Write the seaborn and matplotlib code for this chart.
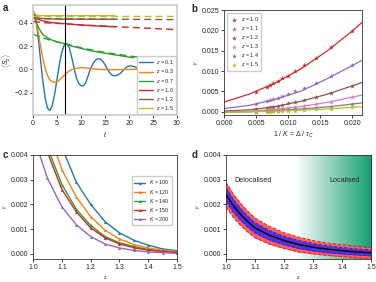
import numpy as np
import pandas as pd
import seaborn as sns
import matplotlib.pyplot as plt
from matplotlib.colors import LinearSegmentedColormap

sns.set_style("ticks")
plt.rcParams['font.family'] = ['Liberation Sans', 'DejaVu Sans']
plt.rcParams['mathtext.fontset'] = 'custom'
plt.rcParams['mathtext.rm'] = 'Liberation Sans'
plt.rcParams['mathtext.it'] = 'Liberation Sans:italic'

# ---- panel a: <S_z>(t) for several z ----
t_blue = [0, 0.5, 1, 1.5, 2, 2.5, 3, 3.5, 4, 4.5, 5, 5.5, 6, 6.5, 7, 7.5, 8, 8.5, 9, 9.5,
          10, 10.5, 11, 11.5, 12, 12.5, 13, 13.5, 14, 14.5, 15, 15.5, 16, 16.5, 17, 17.5,
          18, 18.5, 19, 19.5, 20, 20.5, 21, 21.5, 22, 22.5, 23, 24, 25, 26, 27, 28]
s_blue = [0.50, 0.45, 0.30, 0.10, -0.09, -0.24, -0.33, -0.35, -0.31, -0.21, -0.08, 0.05,
          0.15, 0.21, 0.22, 0.19, 0.11, 0.02, -0.07, -0.12, -0.14, -0.14, -0.11, -0.05,
          0.01, 0.05, 0.08, 0.09, 0.09, 0.07, 0.04, 0.00, -0.03, -0.05, -0.055, -0.05,
          -0.04, -0.02, 0.00, 0.02, 0.03, 0.03, 0.025, 0.015, 0.00, -0.01, -0.02, -0.02,
          0.00, 0.015, 0.005, -0.008]
t_orange = [0, 0.5, 1, 1.5, 2, 2.5, 3, 3.5, 4, 4.5, 5, 5.5, 6, 6.5, 7, 7.5, 8, 9, 10, 11,
            12, 13, 14, 16, 18, 20, 22, 25, 30]
s_orange = [0.50, 0.44, 0.33, 0.21, 0.10, 0.01, -0.05, -0.09, -0.105, -0.11, -0.105,
            -0.09, -0.07, -0.05, -0.03, -0.015, -0.003, 0.01, 0.015, 0.013, 0.008, 0.003,
            0.0, -0.003, -0.002, 0.0, 0.001, 0.0, 0.0]
t_green = [0, 0.5, 1, 1.5, 2, 3, 4, 5, 6.7, 8, 10, 12, 14, 17, 20, 21]
s_green = [0.50, 0.42, 0.37, 0.33, 0.30, 0.27, 0.25, 0.235, 0.22, 0.20, 0.18, 0.16,
           0.145, 0.125, 0.105, 0.10]
t_red = [0, 0.5, 1, 2, 4, 6.7, 10, 14, 17]
s_red = [0.50, 0.45, 0.43, 0.415, 0.40, 0.39, 0.38, 0.37, 0.365]
t_brown = [0, 0.5, 1, 2, 5, 10, 17]
s_brown = [0.50, 0.45, 0.44, 0.435, 0.43, 0.429, 0.428]
t_yellow = [0, 0.5, 1, 5, 17]
s_yellow = [0.50, 0.47, 0.46, 0.46, 0.46]
# fitted exponential decays (dashed)
t_fit = [0, 2, 4, 6.7, 10, 15, 20, 25, 30]
fit_green = [0.30, 0.27, 0.245, 0.22, 0.185, 0.145, 0.115, 0.09, 0.065]
fit_red = [0.41, 0.40, 0.395, 0.39, 0.38, 0.37, 0.36, 0.35, 0.34]
fit_brown = [0.435, 0.434, 0.433, 0.432, 0.431, 0.43, 0.428, 0.427, 0.425]
fit_yellow = [0.46, 0.46, 0.46, 0.46, 0.46, 0.46, 0.46, 0.46, 0.46]
t_star = 6.7

# ---- panel b: gamma vs 1/K ----
invK = [0.005, 0.00667, 0.00714, 0.00769, 0.00833, 0.00909, 0.01, 0.0111, 0.0125,
        0.0143, 0.0167, 0.02]
g_b = {
    "1.0": [0.0049, 0.0061, 0.0065, 0.0070, 0.0075, 0.0082, 0.0089, 0.0100, 0.0115,
            0.0133, 0.0160, 0.0199],
    "1.1": [0.0018, 0.0026, 0.0028, 0.0031, 0.0034, 0.0039, 0.0045, 0.0051, 0.0059,
            0.0072, 0.0088, 0.0114],
    "1.2": [0.0006, 0.0010, 0.0011, 0.0012, 0.0014, 0.0017, 0.0021, 0.0024, 0.0029,
            0.0036, 0.0046, 0.0064],
    "1.3": [0.0002, 0.0004, 0.0004, 0.0005, 0.0006, 0.0008, 0.0010, 0.0012, 0.0015,
            0.0019, 0.0025, 0.0036],
    "1.4": [0.0000, 0.0001, 0.0002, 0.0002, 0.0003, 0.0004, 0.0005, 0.0006, 0.0008,
            0.0010, 0.0013, 0.0019],
    "1.5": [-0.0001, 0.0000, 0.0000, 0.0001, 0.0001, 0.0002, 0.0003, 0.0003, 0.0004,
            0.0006, 0.0008, 0.0011],
}
x_bfit = [0, 0.004, 0.008, 0.012, 0.016, 0.02, 0.022]
fit_b = {
    "1.0": [0.0024, 0.0044, 0.0071, 0.0106, 0.0149, 0.0199, 0.0227],
    "1.1": [0.0008, 0.0016, 0.0031, 0.0051, 0.0081, 0.0114, 0.0131],
    "1.2": [0.0002, 0.0005, 0.0013, 0.0026, 0.0043, 0.0064, 0.0075],
    "1.3": [0.0000, 0.0002, 0.0006, 0.0013, 0.0023, 0.0036, 0.0043],
    "1.4": [-0.0001, 0.0000, 0.0003, 0.0007, 0.0012, 0.0019, 0.0023],
    "1.5": [-0.0001, 0.0000, 0.0002, 0.0004, 0.0007, 0.0011, 0.0013],
}

# ---- panel c: gamma vs z for several K ----
z_c = [1.0, 1.05, 1.1, 1.15, 1.2, 1.25, 1.3, 1.35, 1.4, 1.45, 1.5]
g_c = {
    "100": [0.0090, 0.0063, 0.0043, 0.0029, 0.0020, 0.0013, 0.00085, 0.00055, 0.00035, 0.0002, 0.00013],
    "120": [0.0075, 0.0051, 0.0034, 0.0023, 0.0015, 0.00095, 0.0006, 0.00038, 0.00024, 0.00015, 0.0001],
    "140": [0.0067, 0.0043, 0.0028, 0.0018, 0.00115, 0.0007, 0.00045, 0.0003, 0.00018, 0.0001, 0.00006],
    "150": [0.0064, 0.0041, 0.0026, 0.0017, 0.00105, 0.00065, 0.0004, 0.00025, 0.00015, 0.0001, 0.00005],
    "200": [0.0048, 0.00305, 0.0019, 0.00118, 0.0007, 0.0004, 0.00024, 0.00014, 0.00008, 0.00005, 0.00002],
}

# ---- panel d: extrapolated gamma with confidence bands ----
z_d = [1.0, 1.025, 1.05, 1.075, 1.1, 1.15, 1.2, 1.25, 1.3, 1.35, 1.4, 1.45, 1.5]
g_d = [0.0024, 0.00195, 0.0016, 0.0013, 0.00105, 0.00075, 0.00054, 0.00038, 0.00027,
       0.00019, 0.00013, 0.00008, 0.00004]
half_outer = [0.0005, 0.00047, 0.00045, 0.00042, 0.0004, 0.00036, 0.00032, 0.0003,
              0.00027, 0.00025, 0.00024, 0.00023, 0.00022]
half_inner = [0.00028, 0.00026, 0.00024, 0.00022, 0.00021, 0.00019, 0.00017, 0.00016,
              0.00015, 0.00014, 0.00013, 0.00012, 0.00012]

tick_fs = 5.0
leg_kw = dict(fontsize=3.9, frameon=True, framealpha=1, borderpad=0.4, labelspacing=0.2)
fig = plt.figure(figsize=(3.76, 2.82), dpi=100)
ax_a = fig.add_axes([0.088, 0.592, 0.383, 0.390])
ax_b = fig.add_axes([0.596, 0.592, 0.367, 0.372])
ax_c = fig.add_axes([0.088, 0.082, 0.383, 0.369])
ax_d = fig.add_axes([0.601, 0.082, 0.386, 0.369])

# a
a_cols = ["tab:blue", "tab:orange", "tab:green", "tab:red", "tab:brown", "tab:olive"]
a_series = [(t_blue, s_blue, "0.1"), (t_orange, s_orange, "0.3"), (t_green, s_green, "0.7"),
            (t_red, s_red, "1.0"), (t_brown, s_brown, "1.2"), (t_yellow, s_yellow, "1.5")]
for (tt, ss, lab), c in zip(a_series, a_cols):
    sns.lineplot(x=tt, y=ss, color=c, lw=1.0, ax=ax_a, label="$z$ = " + lab, sort=False)
for ff, c in zip([fit_green, fit_red, fit_brown, fit_yellow], a_cols[2:]):
    ax_a.plot(t_fit, ff, color=c, lw=1.0, ls=(0, (5, 3)))
ax_a.axvline(t_star, color="k", lw=0.8)
ax_a.set_xlim(0, 30)
ax_a.set_ylim(-0.39, 0.55)
ax_a.set_yticks([-0.2, 0.0, 0.2, 0.4])
ax_a.set_xlabel("$t$", fontsize=tick_fs, labelpad=2)
ax_a.set_ylabel(r"$\langle S_z\rangle$", fontsize=tick_fs, labelpad=1)
ax_a.legend(loc="lower right", handlelength=2.6, handletextpad=0.5, borderaxespad=0.2, **leg_kw)
for s in ax_a.spines.values():
    s.set_color("0.8")
    s.set_linewidth(1.2)

# b
b_cols = ["tab:red", "tab:purple", "tab:brown", "tab:pink", "tab:gray", "tab:olive"]
for (k, c) in zip(g_b.keys(), b_cols):
    sns.scatterplot(x=invK, y=g_b[k], color=c, marker="*", s=14, linewidth=0, ax=ax_b,
                    label="$z$ = " + k)
    ax_b.plot(x_bfit, fit_b[k], color=c, lw=0.9)
ax_b.set_xlim(0, 0.0215)
ax_b.set_ylim(-0.0008, 0.025)
ax_b.set_xticks([0, 0.005, 0.01, 0.015, 0.02])
ax_b.set_xticklabels(["0.000", "0.005", "0.010", "0.015", "0.020"])
ax_b.set_yticks([0, 0.005, 0.01, 0.015, 0.02, 0.025])
ax_b.set_yticklabels(["0.000", "0.005", "0.010", "0.015", "0.020", "0.025"])
ax_b.set_xlabel(r"1 / $K$ = Δ / $\tau_C$", fontsize=tick_fs, labelpad=2)
ax_b.set_ylabel(r"$\gamma$", fontsize=3.5, labelpad=1)
ax_b.legend(loc="upper left", handletextpad=0.2, markerscale=1.0, borderaxespad=0.5, **leg_kw)

# c
c_cols = ["tab:blue", "tab:orange", "tab:green", "tab:red", "tab:purple"]
for (k, c) in zip(g_c.keys(), c_cols):
    sns.lineplot(x=z_c, y=g_c[k], color=c, lw=1.0, marker="^", markersize=2.2,
                 markeredgewidth=0, ax=ax_c, label="$K$ = " + k)
ax_c.set_xlim(1.0, 1.5)
ax_c.set_ylim(-0.0002, 0.004)
ax_c.set_yticks([0, 0.001, 0.002, 0.003, 0.004])
ax_c.set_yticklabels(["0.000", "0.001", "0.002", "0.003", "0.004"])
ax_c.set_xlabel("$z$", fontsize=3.5, labelpad=2)
ax_c.set_ylabel(r"$\gamma$", fontsize=3.5, labelpad=1)
ax_c.legend(loc="center right", bbox_to_anchor=(0.985, 0.56), handlelength=2.0, **leg_kw)

# d
cmap = LinearSegmentedColormap.from_list("loc", ["#ffffff", "#ffffff", "#15a06f"])
grad = np.linspace(0, 1, 256).reshape(1, -1)
ax_d.imshow(grad, cmap=cmap, aspect="auto", extent=[1.0, 1.5, -0.0002, 0.004],
            zorder=0, vmin=-0.05, vmax=1)
gd = np.array(g_d)
ho = np.array(half_outer)
hi = np.array(half_inner)
ax_d.fill_between(z_d, gd - ho, gd + ho, color="#ff5c5c", lw=0, zorder=1)
ax_d.fill_between(z_d, gd - hi, gd + hi, color="#5a2fd6", lw=0, zorder=2)
ax_d.plot(z_d, gd - ho, color="#e02020", lw=0.7, ls="--", zorder=3)
ax_d.plot(z_d, gd + ho, color="#e02020", lw=0.7, ls="--", zorder=3)
ax_d.plot(z_d, gd - hi, color="#1c2cf0", lw=0.7, ls="--", zorder=3)
ax_d.plot(z_d, gd + hi, color="#1c2cf0", lw=0.7, ls="--", zorder=3)
sns.lineplot(x=z_d, y=g_d, color="k", lw=1.0, ax=ax_d, zorder=4)
ax_d.text(1.03, 0.0029, "Delocalised", fontsize=5.2, color="0.15")
ax_d.text(1.355, 0.0029, "Localised", fontsize=5.2, color="0.15")
ax_d.set_xlim(1.0, 1.5)
ax_d.set_ylim(-0.0002, 0.004)
ax_d.set_yticks([0, 0.001, 0.002, 0.003, 0.004])
ax_d.set_yticklabels(["0.000", "0.001", "0.002", "0.003", "0.004"])
ax_d.set_xlabel("$z$", fontsize=3.5, labelpad=2)
ax_d.set_ylabel(r"$\gamma$", fontsize=3.5, labelpad=1)

for ax in (ax_a, ax_b, ax_c, ax_d):
    ax.tick_params(labelsize=tick_fs, length=2, width=0.6, pad=1.5)
for ax in (ax_b, ax_c, ax_d):
    for s in ax.spines.values():
        s.set_linewidth(0.6)
        s.set_color("0.2")

for lab, x, y in [("a", 0.008, 0.99), ("b", 0.508, 0.985), ("c", 0.008, 0.468), ("d", 0.51, 0.468)]:
    fig.text(x, y, lab, fontsize=7, fontweight="bold", va="top")

fig.savefig("out.png", dpi=100)
